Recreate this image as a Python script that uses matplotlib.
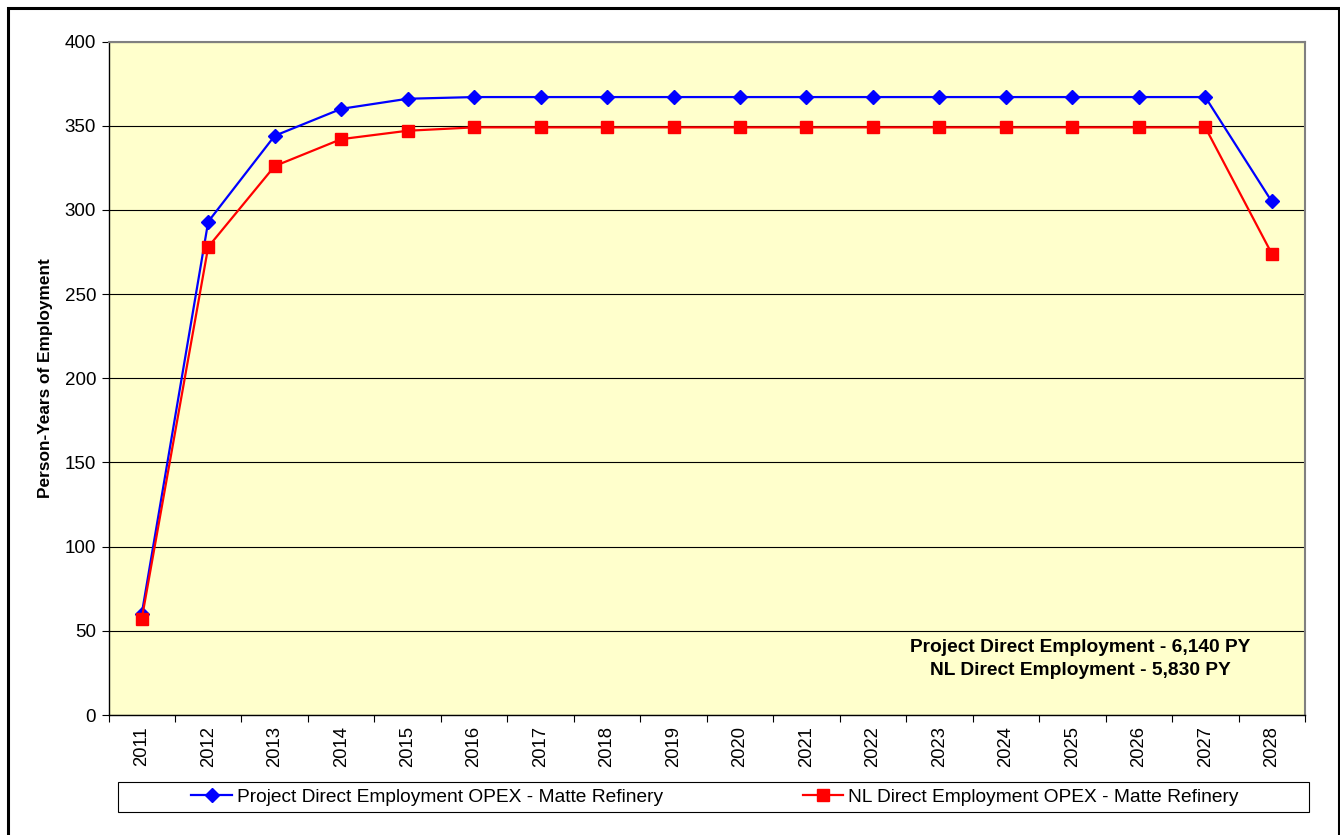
import matplotlib.pyplot as plt
from matplotlib.patches import Rectangle

plt.rcParams['font.family'] = ['Liberation Sans', 'DejaVu Sans']

years = [str(y) for y in range(2011, 2029)]
project_direct = [60, 293, 344, 360, 366, 367, 367, 367, 367, 367, 367, 367, 367, 367, 367, 367, 367, 305]
nl_direct = [57, 278, 326, 342, 347, 349, 349, 349, 349, 349, 349, 349, 349, 349, 349, 349, 349, 274]

fig = plt.figure(figsize=(13.4, 8.35), dpi=100)
W, H = 1340, 835
# plot area in pixel coords
left, right, top, bottom = 108.5, 1305, 41.5, 715
ax = fig.add_axes([left / W, 1 - bottom / H, (right - left) / W, (bottom - top) / H])
ax.set_facecolor('#FFFFCC')

x = list(range(len(years)))
ax.plot(x, project_direct, color='#0000FF', marker='D', markersize=7, linewidth=1.6,
        label='Project Direct Employment OPEX - Matte Refinery')
ax.plot(x, nl_direct, color='#FF0000', marker='s', markersize=8.5, linewidth=1.6,
        label='NL Direct Employment OPEX - Matte Refinery')

ax.set_xlim(-0.5, len(years) - 0.5)
ax.set_ylim(0, 400)
ax.set_yticks(range(0, 401, 50))
ax.yaxis.grid(True, color='black', linewidth=0.8)
ax.set_axisbelow(True)
ax.set_xticks(x)
ax.set_xticklabels(years, rotation=90, fontsize=13.3)
ax.set_xticks([i - 0.5 for i in range(len(years) + 1)], minor=True)
ax.tick_params(axis='x', which='major', length=0, pad=8)
ax.tick_params(axis='x', which='minor', length=5, width=0.8, direction='out')
ax.tick_params(axis='y', length=5, width=0.8, labelsize=13.5, direction='out', pad=4)

for side in ['top', 'right']:
    ax.spines[side].set_color('#808080')
    ax.spines[side].set_linewidth(1.5)
for side in ['left', 'bottom']:
    ax.spines[side].set_color('black')
    ax.spines[side].set_linewidth(1.0)

ax.set_ylabel('Person-Years of Employment', fontsize=12.4, fontweight='bold', labelpad=8)

ax.text(0.812, 0.0835, 'Project Direct Employment - 6,140 PY\nNL Direct Employment - 5,830 PY',
        transform=ax.transAxes, ha='center', va='center', fontsize=13.8, fontweight='bold',
        linespacing=1.45)

leg = fig.legend(loc='center', bbox_to_anchor=(715 / W, 1 - 797 / H), ncol=2,
                 frameon=False, fontsize=13.8, columnspacing=7.3,
                 handlelength=2.1, handletextpad=0.26)

# legend box as in the original (wider than the entries)
fig.patches.append(Rectangle((118 / W, 1 - 812 / H), (1309 - 118) / W, 30 / H,
                             transform=fig.transFigure, fill=False,
                             edgecolor='black', linewidth=0.8))

# outer chart border
fig.patches.append(Rectangle((8 / W, -0.02), (1339 - 8) / W, 1.02 - 8 / H, transform=fig.transFigure,
                             fill=False, edgecolor='black', linewidth=2.2))

fig.savefig('out.png', dpi=100)
